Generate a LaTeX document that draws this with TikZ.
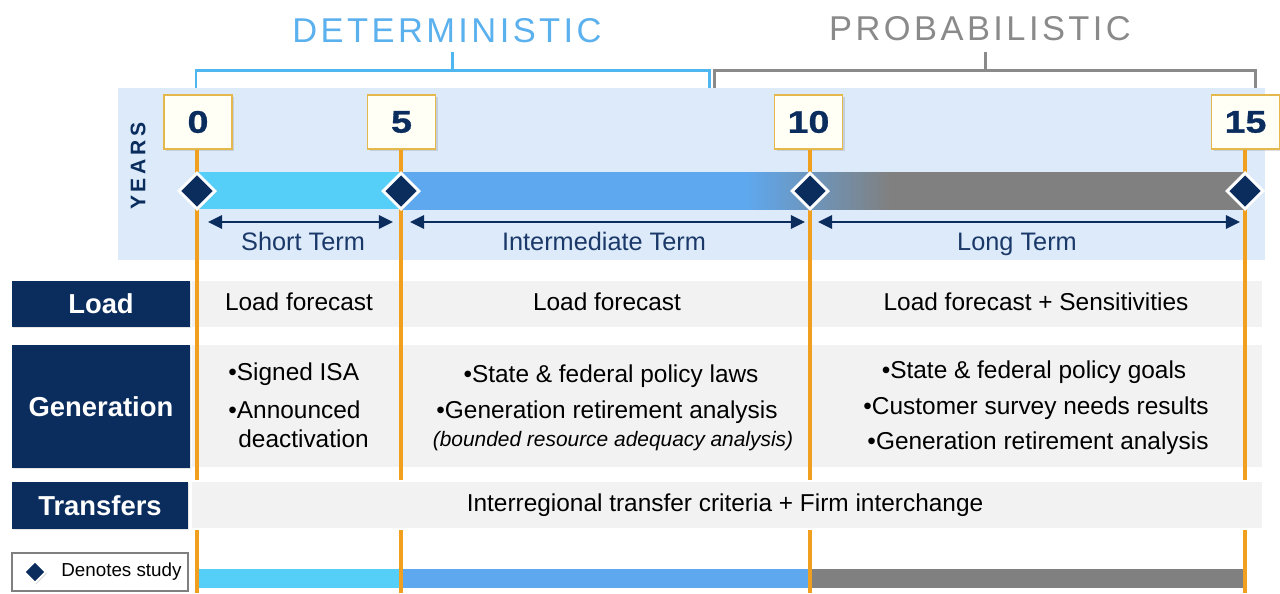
\documentclass[tikz,border=0pt]{standalone}
\usepackage{fontspec}
\setmainfont{Liberation Sans}
\newfontfamily\digitfont[FakeStretch=1.2,FakeBold=1]{Liberation Sans}
\newfontfamily\titlefont[LetterSpace=10]{Liberation Sans}
\newfontfamily\yearsfont[LetterSpace=18]{Liberation Sans}
\usetikzlibrary{arrows.meta,shadows,shapes.geometric}
\definecolor{navy}{HTML}{0B2D5E}
\definecolor{band}{HTML}{DCEAFA}
\definecolor{detblue}{HTML}{5BB0EE}
\definecolor{detbracket}{HTML}{4FB6F0}
\definecolor{probgray}{HTML}{8A8A8A}
\definecolor{orangeline}{HTML}{F0A01E}
\definecolor{cyanbar}{HTML}{55CFF7}
\definecolor{bluebar}{HTML}{5EA8EF}
\definecolor{graybar}{HTML}{808080}
\definecolor{rowgray}{HTML}{F2F2F2}
\definecolor{boxfill}{HTML}{FFFFF5}
\definecolor{boxborder}{HTML}{E5B84E}
\definecolor{termnavy}{HTML}{1A3868}
\pgfdeclarehorizontalshading{barshade}{100bp}{color(0bp)=(bluebar); color(45.38bp)=(bluebar); color(53.97bp)=(graybar); color(100bp)=(graybar)}
\begin{document}
\begin{tikzpicture}[x=0.02cm,y=-0.02cm,
  bodytext/.style={font=\fontsize{13.9}{16}\selectfont, text=black, inner sep=0pt},
  italtext/.style={font=\fontsize{11.9}{14}\selectfont\itshape, text=black, inner sep=0pt},
  termlabel/.style={font=\fontsize{14.4}{17}\selectfont, text=termnavy, inner sep=0pt},
  rowlabel/.style={fill=navy, text=white, font=\fontsize{15.6}{18}\selectfont\bfseries,
    minimum width=3.56cm, inner sep=0pt,
    drop shadow={opacity=0.2, shadow xshift=0.8pt, shadow yshift=-0.8pt}},
  yearbox/.style={fill=boxfill, draw=boxborder, line width=0.6pt,
    minimum width=1.36cm, minimum height=1.08cm, inner sep=0pt,
    text=navy, font=\fontsize{17.8}{20}\digitfont\bfseries,
    drop shadow={opacity=0.25, shadow xshift=1.2pt, shadow yshift=-1.2pt}},
  studymark/.style={diamond, fill=navy, draw=white, line width=1.7pt,
    minimum width=0.74cm, minimum height=0.74cm, inner sep=0pt,
    drop shadow={opacity=0.2, shadow xshift=0.8pt, shadow yshift=-0.8pt}},
  termarrow/.style={navy, line width=1.6pt, {Triangle[length=8pt,width=7.5pt]}-{Triangle[length=8pt,width=7.5pt]}},
  timeline/.style={orangeline, line width=2.3pt},
  bracketline/.style={line width=1.7pt}
]
\useasboundingbox (0,0) rectangle (1280,593);

% year band
\fill[band] (118,88) rectangle (1265,260);

% titles and brackets
\node[text=detblue, font=\fontsize{19.6}{22}\titlefont, inner sep=0pt] (det) at (447,31) {DETERMINISTIC};
\node[text=probgray, font=\fontsize{19.6}{22}\titlefont, inner sep=0pt] (prob) at (980,29) {PROBABILISTIC};
\draw[bracketline, detbracket] (196,88) -- (196,70) -- (709,70) -- (709,88);
\draw[bracketline, detbracket] (452,70) -- (452,52);
\draw[bracketline, probgray] (714,88) -- (714,70) -- (1255,70) -- (1255,88);
\draw[bracketline, probgray] (985,70) -- (985,52);

% YEARS
\node[rotate=90, text=navy, font=\fontsize{12}{14}\yearsfont\bfseries, inner sep=0pt] (years) at (138,166) {YEARS};

% table rows
\fill[rowgray] (192,281) rectangle (1262,327);
\fill[rowgray] (192,345) rectangle (1262,467);
\fill[rowgray] (192,482) rectangle (1262,528);

\node[rowlabel, minimum height=0.92cm] (load) at (101,304) {Load};
\node[rowlabel, minimum height=2.46cm] (gen) at (101,406.5) {Generation};
\node[rowlabel, minimum height=0.94cm, minimum width=3.52cm] (trans) at (100,505.5) {Transfers};

% bottom bar
\fill[cyanbar] (197,569) rectangle (401,588);
\fill[bluebar] (401,569) rectangle (810,588);
\fill[graybar] (810,569) rectangle (1245,588);

% year boxes
\node[yearbox] (y0) at (198,122) {0};
\node[yearbox] (y5) at (401.5,122) {5};
\node[yearbox] (y10) at (808.5,122) {10};
\node[yearbox] (y15) at (1245.5,122) {15};

% end coordinates of the time lines
\coordinate (e0) at (197,480);
\coordinate (e5) at (401,480);
\coordinate (e10) at (810,480);
\coordinate (e15) at (1245,480);
\coordinate (b0a) at (197,530);
\coordinate (b5a) at (401,530);
\coordinate (b10a) at (810,530);
\coordinate (b15a) at (1245,530);
\coordinate (b0b) at (197,593);
\coordinate (b5b) at (401,593);
\coordinate (b10b) at (810,593);
\coordinate (b15b) at (1245,593);

\draw[timeline] (y0.south -| e0) -- (e0);
\draw[timeline] (y5.south -| e5) -- (e5);
\draw[timeline] (y10.south -| e10) -- (e10);
\draw[timeline] (y15.south -| e15) -- (e15);
\draw[timeline] (b0a) -- (b0b);
\draw[timeline] (b5a) -- (b5b);
\draw[timeline] (b10a) -- (b10b);
\draw[timeline] (b15a) -- (b15b);

% timeline bar
\fill[cyanbar] (197,172) rectangle (401.5,209);
\shade[shading=barshade] (401,172) rectangle (1245,209);

% study markers
\node[studymark] (d0) at (197,191) {};
\node[studymark] (d5) at (401,191) {};
\node[studymark] (d10) at (810,191) {};
\node[studymark] (d15) at (1245,191) {};

% term arrows
\coordinate (s1) at (208,222); \coordinate (s2) at (393,222);
\coordinate (i1) at (410,222); \coordinate (i2) at (805,222);
\coordinate (g1) at (818,222); \coordinate (g2) at (1240,222);
\draw[termarrow] (s1) -- (s2);
\draw[termarrow] (i1) -- (i2);
\draw[termarrow] (g1) -- (g2);
\node[termlabel, anchor=base] (tshort) at (303,250) {Short Term};
\node[termlabel, anchor=base] (tinter) at (604,250) {Intermediate Term};
\node[termlabel, anchor=base] (tlong) at (1017,250) {Long Term};

% load row
\node[bodytext, anchor=base] (l1) at (299,310) {Load forecast};
\node[bodytext, anchor=base] (l2) at (607,310) {Load forecast};
\node[bodytext, anchor=base] (l3) at (1036,310) {Load forecast + Sensitivities};

% generation row
\node[bodytext, anchor=base west] (g11) at (228,380) {•Signed ISA};
\node[bodytext, anchor=base west] (g12) at (228,418) {•Announced};
\node[bodytext, anchor=base west] (g13) at (238,447) {deactivation};
\node[bodytext, anchor=base] (g21) at (611,382) {•State \& federal policy laws};
\node[bodytext, anchor=base] (g22) at (607,418) {•Generation retirement analysis};
\node[italtext, anchor=base] (g23) at (613,446) {(bounded resource adequacy analysis)};
\node[bodytext, anchor=base] (g31) at (1034,378) {•State \& federal policy goals};
\node[bodytext, anchor=base] (g32) at (1036,414) {•Customer survey needs results};
\node[bodytext, anchor=base] (g33) at (1038,449) {•Generation retirement analysis};

% transfers row
\node[bodytext, anchor=base] (t1) at (725,511) {Interregional transfer criteria + Firm interchange};

% legend
\node[draw=graybar, line width=0.6pt, minimum width=3.52cm, minimum height=0.76cm, inner sep=0pt] (legend) at (100,572) {};
\node[diamond, fill=navy, draw=white, line width=1pt, minimum width=0.44cm, minimum height=0.44cm, inner sep=0pt,
  drop shadow={opacity=0.3, shadow xshift=0.8pt, shadow yshift=-0.8pt}] (ld) at (35,572) {};
\node[anchor=west, inner sep=0pt, font=\fontsize{10.7}{13}\selectfont, text=black] (lt) at (61,572) {Denotes study};
\end{tikzpicture}
\end{document}
